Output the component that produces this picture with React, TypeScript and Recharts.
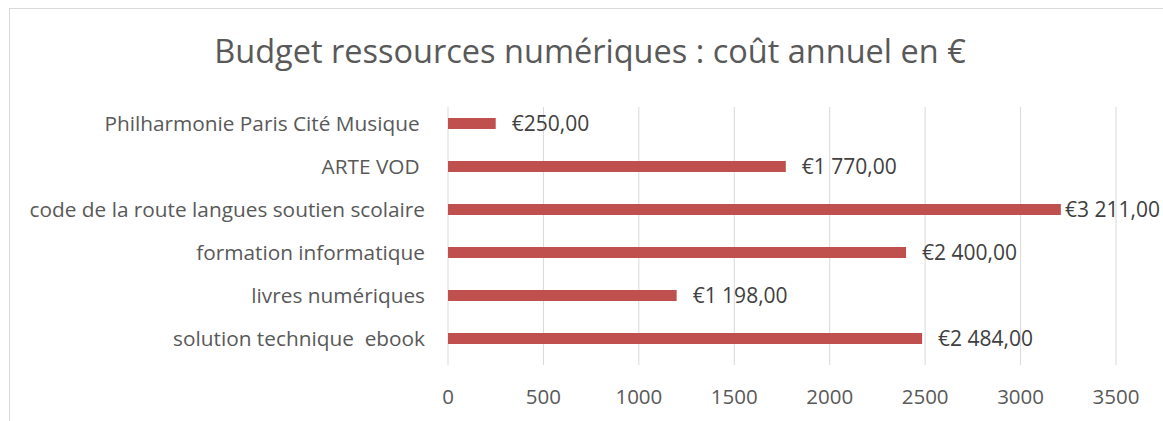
import { BarChart, Bar, XAxis, YAxis, CartesianGrid, LabelList } from "recharts";

const categories = [
  "Philharmonie Paris Cité Musique ",
  "ARTE VOD ",
  "code de la route langues soutien scolaire",
  "formation informatique",
  "livres numériques",
  "solution technique  ebook",
];
const costs = [250, 1770, 3211, 2400, 1198, 2484];
const xTicks = [0, 500, 1000, 1500, 2000, 2500, 3000, 3500];

const data = categories.map((name, i) => ({ name, cost: costs[i] }));

const FONT = "'Open Sans', Lato, sans-serif";
const CHART_W = 1163;
const CHART_H = 421;

// €1 770,00 style (French grouping with a space)
const formatEuro = (v: number) => {
  const whole = Math.floor(v)
    .toString()
    .replace(/\B(?=(\d{3})+(?!\d))/g, " ");
  return `€${whole},00`;
};

const CategoryTick = ({ x, y, payload }: { x?: number; y?: number; payload?: { value: string } }) => (
  <text
    x={x}
    y={y}
    dy="0.35em"
    textAnchor="end"
    fill="#595959"
    fontSize={20.8}
    fontFamily={FONT}
    style={{ whiteSpace: "pre" }}
  >
    {payload?.value}
  </text>
);

// value label right of the bar, pulled back inside the frame when it would run off
const ValueLabel = (props: any) => {
  const { x = 0, y = 0, width = 0, height = 0, value } = props;
  const start = x + width + 16;
  const fits = start + 96 < CHART_W - 2;
  return (
    <text
      x={fits ? start : CHART_W - 3}
      y={y + height / 2}
      dy="0.35em"
      textAnchor={fits ? "start" : "end"}
      fill="#404040"
      fontSize={21}
      fontFamily={FONT}
    >
      {formatEuro(Number(value))}
    </text>
  );
};

export default function App() {
  return (
    <div
      style={{
        position: "fixed",
        left: 0,
        top: 0,
        width: CHART_W,
        height: CHART_H,
        overflow: "hidden",
        background: "#fff",
      }}
    >
      <div
        style={{
          position: "absolute",
          left: 9,
          top: 8,
          width: 1200,
          height: 500,
          border: "1px solid #d9d9d9",
          boxSizing: "border-box",
        }}
      />
      <svg width={CHART_W} height={100} style={{ position: "absolute", left: 0, top: 0 }}>
        <text x={590} y={63} textAnchor="middle" fill="#595959" fontSize={32.5} fontFamily={FONT}>
          Budget ressources numériques : coût annuel en €
        </text>
      </svg>
      <div style={{ position: "absolute", left: 0, top: 0 }}>
        <BarChart
          width={CHART_W}
          height={CHART_H}
          data={data}
          layout="vertical"
          margin={{ top: 107, right: 47, bottom: 0, left: 0 }}
        >
          <CartesianGrid horizontal={false} stroke="#d9d9d9" />
          <XAxis
            type="number"
            domain={[0, 3500]}
            ticks={xTicks}
            height={56}
            axisLine={false}
            tickLine={false}
            tickMargin={18}
            tick={{ fill: "#595959", fontSize: 20.5, fontFamily: FONT }}
          />
          <YAxis
            type="category"
            dataKey="name"
            width={448}
            axisLine={false}
            tickLine={false}
            tickMargin={17}
            padding={{ top: -5, bottom: 5 }}
            tick={<CategoryTick />}
            interval={0}
          />
          <Bar dataKey="cost" fill="#C0504D" barSize={11} isAnimationActive={false}>
            <LabelList dataKey="cost" content={<ValueLabel />} />
          </Bar>
        </BarChart>
      </div>
    </div>
  );
}
